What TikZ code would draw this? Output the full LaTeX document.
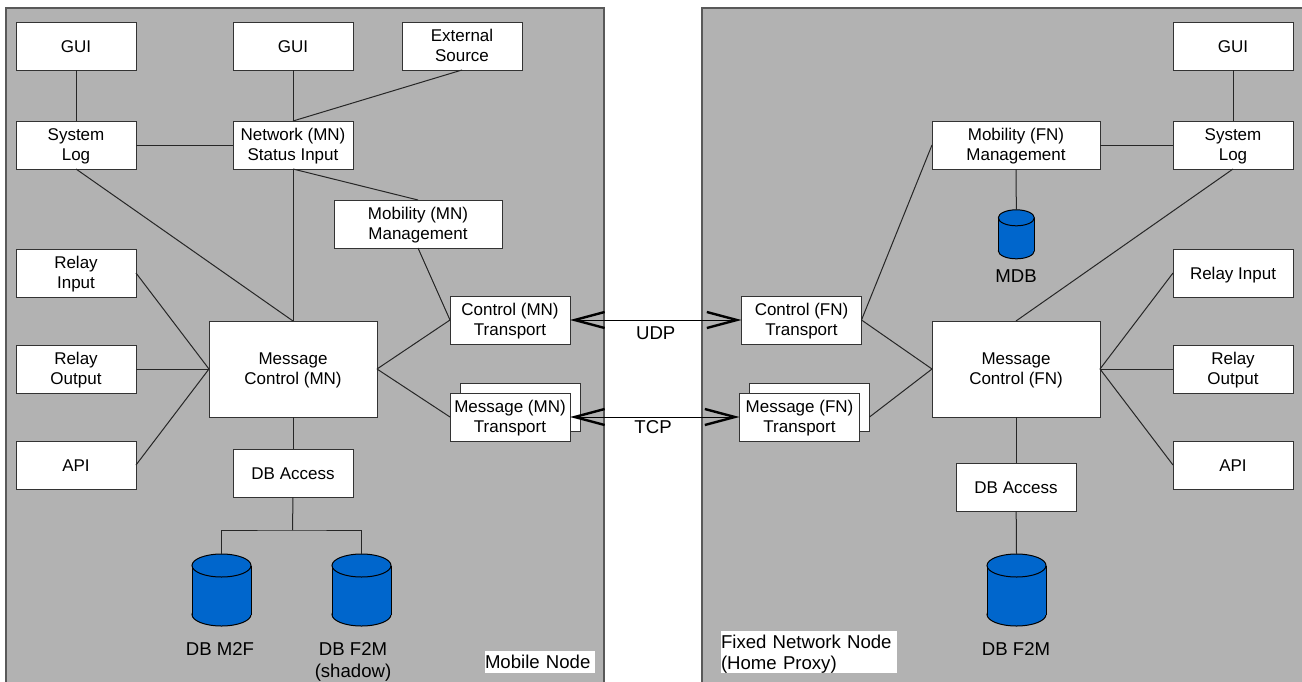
\documentclass[tikz,border=0pt]{standalone}
\usepackage{fontspec}
\setmainfont{Liberation Sans}
\usetikzlibrary{shapes.geometric,arrows.meta}
\definecolor{panelgray}{HTML}{B2B2B2}
\definecolor{dbblue}{HTML}{0066CC}
\tikzset{
  panel/.style={draw=black!65,fill=panelgray,line width=1.2pt,minimum height=690pt,minimum width=#1,inner sep=0pt,outer sep=0pt},
  boxnode/.style={draw=black!80,fill=white,line width=1pt,align=center,inner sep=0pt,outer sep=0pt,minimum width=120pt,minimum height=48pt,font=\fontsize{17}{19.5}\selectfont,text height=30.8pt,text depth=0pt},
  oneline/.style={text height=12pt},
  widebox/.style={boxnode,minimum width=168pt},
  bigbox/.style={boxnode,minimum width=168pt,minimum height=96pt},
  dbnode/.style={inner sep=0pt,outer sep=0pt},
  dbshape/.style={draw=black,fill=dbblue,line width=1pt},
  label/.style={align=center,inner sep=0pt,font=\fontsize{18.6}{21.5}\selectfont},
  tag/.style={fill=white,align=left,inner sep=0pt,font=\fontsize{18.6}{21.5}\selectfont},
  wire/.style={draw=black!85,line width=1pt},
  link/.style={draw=black,line width=1pt,{Straight Barb[length=30pt,width=16pt,line width=2.4pt]}-{Straight Barb[length=30pt,width=16pt,line width=2.4pt]}}
}
% name, centre, width, height, ellipse half-height
\newcommand{\dbcyl}[5]{%
  \node[dbnode,minimum width=#3pt,minimum height=#4pt] (#1) at #2 {};
  \draw[dbshape] ([yshift=#5pt]#1.south) ellipse ({#3pt/2} and #5pt);
  \fill[dbblue] ([yshift=-#5pt]#1.north west) rectangle ([yshift=#5pt]#1.south east);
  \draw[line width=1pt] ([yshift=-#5pt]#1.north west) -- ([yshift=#5pt]#1.south west)
    ([yshift=-#5pt]#1.north east) -- ([yshift=#5pt]#1.south east);
  \draw[dbshape] ([yshift=-#5pt]#1.north) ellipse ({#3pt/2} and #5pt);
}
\begin{document}
\begin{tikzpicture}[x=1pt,y=-1pt]
\useasboundingbox (0,0) rectangle (1302,681);
\fill[white] (0,0) rectangle (1302,681);
\begin{scope}
\clip (0,0) rectangle (1302,681);
\node[panel=598pt,anchor=north west] (mnpanel) at (6,8) {};
\node[panel=620pt,anchor=north west] (fnpanel) at (702,8) {};
\end{scope}
% Mobile node
\node[boxnode,oneline] (gui1) at (76,46) {GUI};
\node[boxnode] (log1) at (76,145) {System\\Log};
\node[boxnode,oneline] (gui2) at (293,46) {GUI};
\node[boxnode] (ext) at (462,46) {External\\Source};
\node[boxnode] (net) at (293,145) {Network (MN)\\Status Input};
\node[widebox] (mobm) at (418,224) {Mobility (MN)\\Management};
\node[boxnode] (rin1) at (76,273) {Relay\\Input};
\node[boxnode] (rout1) at (76,369) {Relay\\Output};
\node[boxnode,oneline] (api1) at (76,465) {API};
\node[bigbox] (msg1) at (293,369) {Message\\Control (MN)};
\node[boxnode] (ctl1) at (510,320) {Control (MN)\\Transport};
\node[boxnode] (tb1) at (520,407) {};
\node[boxnode] (tr1) at (510,417) {Message (MN)\\Transport};
\node[boxnode,oneline] (dba1) at (293,473) {DB Access};
\dbcyl{m2f}{(221.5,590)}{59}{72}{11.5}
\dbcyl{f2m1}{(361.5,590)}{59}{72}{11.5}
\coordinate (bus) at (292.5,530);
\node[label] (m2flab) at (220,649) {DB M2F};
\node[label] (f2mlab) at (353,662) {DB F2M\\(shadow)};
\node[tag,text width=110pt,minimum height=22pt] (mntag) at (540,662) {Mobile Node};
% Fixed node
\node[boxnode] (ctl2) at (801.5,320) {Control (FN)\\Transport};
\node[boxnode] (tb2) at (809.5,407) {};
\node[boxnode] (tr2) at (799.5,417) {Message (FN)\\Transport};
\node[widebox] (mobf) at (1016,145) {Mobility (FN)\\Management};
\node[boxnode] (log2) at (1233,145) {System\\Log};
\node[boxnode,oneline] (gui3) at (1233,46) {GUI};
\dbcyl{mdb}{(1016.3,234.3)}{36}{49}{8}
\node[label] (mdblab) at (1016,276) {MDB};
\node[boxnode,oneline] (rin2) at (1233,273) {Relay Input};
\node[boxnode] (rout2) at (1233,369) {Relay\\Output};
\node[boxnode,oneline] (api2) at (1233,465) {API};
\node[bigbox] (msg2) at (1016,369) {Message\\Control (FN)};
\node[boxnode,oneline] (dba2) at (1016,487) {DB Access};
\dbcyl{f2m2}{(1016.5,590)}{59}{72}{11.5}
\node[label] (f2m2lab) at (1016,649) {DB F2M};
\node[tag,text width=176pt,minimum height=42pt,text height=13pt,text depth=21pt] (fntag) at (809,652) {Fixed Network Node\\(Home Proxy)};
% Wires, mobile
\draw[wire] (gui1) -- (log1);
\draw[wire] (gui2) -- (net);
\draw[wire] (ext.south) -- (net.north);
\draw[wire] (log1) -- (net);
\draw[wire] (log1.south) -- (msg1.north);
\draw[wire] (net.south) -- (msg1.north);
\draw[wire] (net.south) -- (mobm.north);
\draw[wire] (mobm.south) -- (ctl1.west);
\draw[wire] (rin1.east) -- (msg1.west);
\draw[wire] (rout1.east) -- (msg1.west);
\draw[wire] (api1.east) -- (msg1.west);
\draw[wire] (ctl1.west) -- (msg1.east);
\draw[wire] (tr1.west) -- (msg1.east);
\draw[wire] (msg1.south) -- (dba1.north);
\draw[wire] (dba1.south) -- (bus);
\draw[wire] (m2f.north) |- (bus) -| (f2m1.north);
% Wires, fixed
\draw[wire] (ctl2.east) -- (msg2.west);
\draw[wire] (tb2.south east) ++(0,-14) coordinate (tbout) -- (msg2.west);
\draw[wire] (ctl2.east) -- (mobf.west);
\draw[wire] (mobf) -- (log2);
\draw[wire] (gui3) -- (log2);
\draw[wire] (log2.south) -- (msg2.north);
\draw[wire] (mobf) -- (mdb.north);
\draw[wire] (rin2.west) -- (msg2.east);
\draw[wire] (rout2.west) -- (msg2.east);
\draw[wire] (api2.west) -- (msg2.east);
\draw[wire] (msg2) -- (dba2);
\draw[wire] (dba2) -- (f2m2.north);
\draw[link] (ctl1.east) -- node[label,below=6pt,pos=0.5] (udp) {UDP} (ctl2.west);
\draw[link] (tr1.east) -- node[label,below=3pt,pos=0.49] (tcp) {TCP} (tr2.west);
\end{tikzpicture}
\end{document}
